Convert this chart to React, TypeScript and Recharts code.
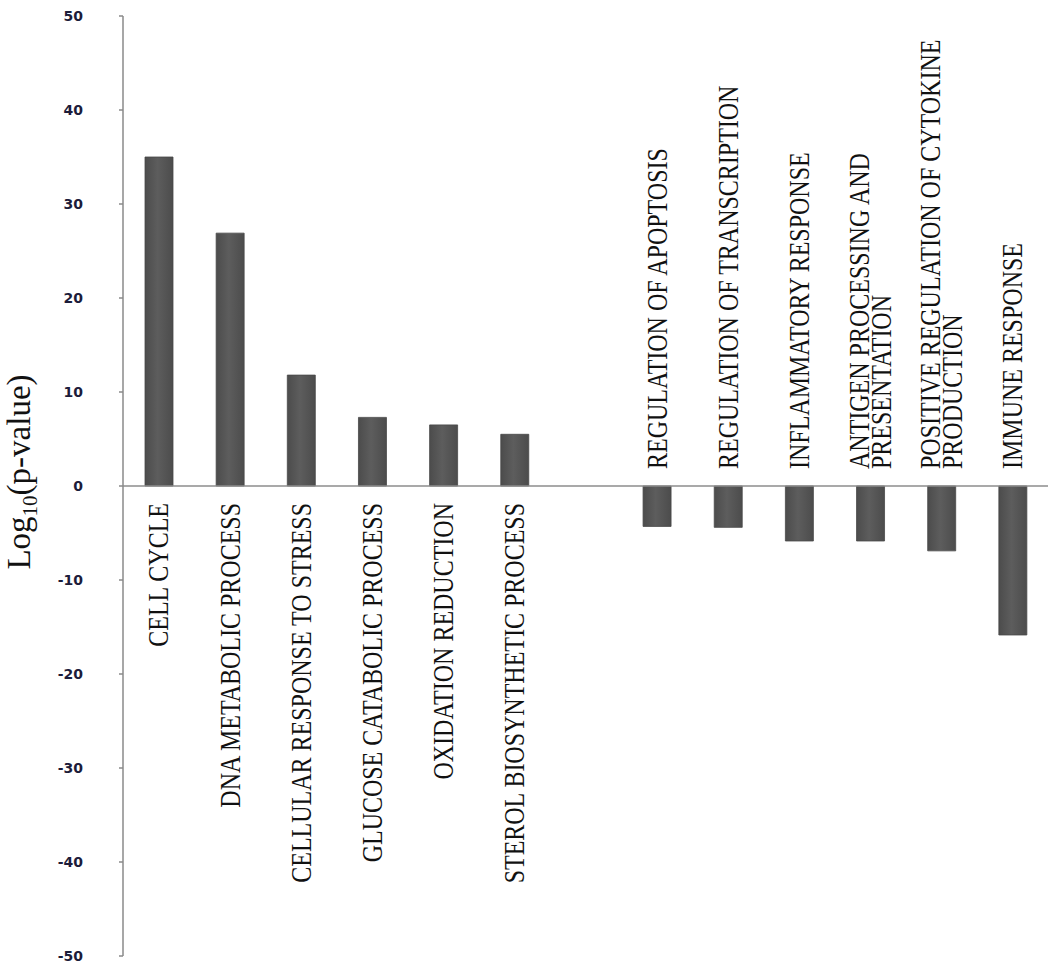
import { BarChart, Bar, XAxis, YAxis, ReferenceLine, LabelList } from 'recharts';

// GO terms, with one empty slot that leaves the gap between up- and down-regulated groups
const categories = [
    'CELL CYCLE',
    'DNA METABOLIC PROCESS',
    'CELLULAR RESPONSE TO STRESS',
    'GLUCOSE CATABOLIC PROCESS',
    'OXIDATION REDUCTION',
    'STEROL BIOSYNTHETIC PROCESS',
    '',
    'REGULATION OF APOPTOSIS',
    'REGULATION OF TRANSCRIPTION',
    'INFLAMMATORY RESPONSE',
    'ANTIGEN PROCESSING AND\nPRESENTATION',
    'POSITIVE REGULATION OF CYTOKINE\nPRODUCTION',
    'IMMUNE RESPONSE',
];

const logP: (number | null)[] = [35.0, 26.9, 11.8, 7.3, 6.5, 5.5, null, -4.3, -4.4, -5.85, -5.85, -6.9, -15.85];

const yTicks = [-50, -40, -30, -20, -10, 0, 10, 20, 30, 40, 50];

const data = categories.map((name, i) => ({ name, value: logP[i] }));

const serif = "'Liberation Serif', 'Times New Roman', serif";

function CategoryTag(props: any) {
    const name = props.value as string;
    if (!name) return null;
    const vb = props.viewBox ?? props;
    const v = logP[categories.indexOf(name)] ?? 0;
    const top = Math.min(vb.y, vb.y + vb.height);
    const bottom = Math.max(vb.y, vb.y + vb.height);
    const cx = vb.x + vb.width / 2;
    const neg = v < 0;
    const ty = neg ? top - 17 : bottom + 17;
    const lines = name.split('\n');
    const step = 18.3;
    return (
        <g transform={`translate(${cx},${ty}) rotate(-90) scale(1,1.2)`}>
            <text textAnchor={neg ? 'start' : 'end'} fontFamily={serif} fontSize={24} fill="#111">
                {lines.map((ln, k) => (
                    <tspan key={k} x={0} y={7.9 + (k - (lines.length - 1) / 2) * step}>
                        {ln}
                    </tspan>
                ))}
            </text>
        </g>
    );
}

function AxisTitle(props: any) {
    const vb = props.viewBox;
    return (
        <g transform={`translate(${vb.x + 30},${vb.y + vb.height / 2 - 14}) rotate(-90)`}>
            <text textAnchor="middle" fontFamily={serif} fontSize={33} fill="#111">
                Log
                <tspan fontSize={21} dy={7}>10</tspan>
                <tspan dy={-7}>(p-value)</tspan>
            </text>
        </g>
    );
}

export default function App() {
    return (
        <div style={{ position: 'absolute', left: 0, top: 0, width: 1050, height: 974, background: '#fff' }}>
            <BarChart width={1050} height={974} data={data} margin={{ top: 16, right: 2, bottom: 18, left: 0 }}>
                <defs>
                    <linearGradient id="barFill" x1="0" y1="0" x2="1" y2="0">
                        <stop offset="0%" stopColor="#4c4c4c" />
                        <stop offset="45%" stopColor="#5d5d5d" />
                        <stop offset="100%" stopColor="#4c4c4c" />
                    </linearGradient>
                </defs>
                <XAxis dataKey="name" hide />
                <YAxis
                    domain={[-50, 50]}
                    ticks={yTicks}
                    interval={0}
                    width={123}
                    tickSize={4}
                    tickMargin={36}
                    axisLine={{ stroke: '#8a8a8a', strokeWidth: 1.5 }}
                    tickLine={{ stroke: '#8a8a8a', strokeWidth: 1.5 }}
                    tick={{ fill: '#1c1c3a', fontSize: 14, fontWeight: 700, fontFamily: "'DejaVu Sans', sans-serif" }}
                    label={{ content: AxisTitle }}
                />
                <ReferenceLine y={0} stroke="#8c8c8c" strokeWidth={1.5} />
                <Bar dataKey="value" fill="url(#barFill)" stroke="#484848" strokeWidth={0.8} barSize={28} isAnimationActive={false}>
                    <LabelList dataKey="name" content={CategoryTag} />
                </Bar>
            </BarChart>
        </div>
    );
}
